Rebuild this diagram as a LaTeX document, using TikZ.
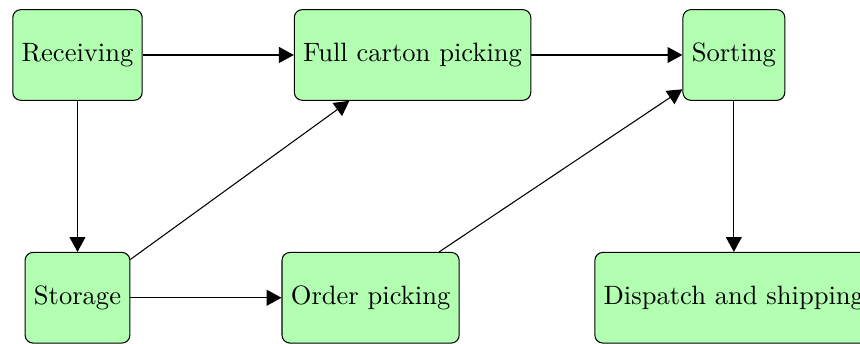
\documentclass[tikz,border=0pt]{standalone}
\usepackage{tikz}
\usetikzlibrary{arrows.meta,positioning}

\begin{document}
\begin{tikzpicture}[
        stage/.style={draw, fill=green!30, rounded corners=3pt, minimum height=1.2cm, align=center},
        arrow/.style={-{Triangle[length=5.6pt, width=6pt]}}
    ]
        \useasboundingbox (-1.026, 0.728) rectangle (10.36, -3.826);

        % upper row
        \node[stage] (recv) at (0, 0) {Receiving};
        \node[stage, right=2cm of recv] (full) {Full carton picking};
        \node[stage, right=2cm of full] (sort) {Sorting};

        % lower row
        \node[stage, below=2cm of recv] (store) {Storage};
        \node[stage, right=2cm of store] (order) {Order picking};
        \node[stage, below=2cm of sort] (ship) {Dispatch and shipping};

        % arrows
        \draw[arrow] (recv) -- (full);
        \draw[arrow] (full) -- (sort);
        \draw[arrow] (recv) -- (store);
        \draw[arrow] (store) -- (order);
        \draw[arrow] (store) -- (full);
        \draw[arrow] (order) -- (sort);
        \draw[arrow] (sort) -- (ship);
    \end{tikzpicture}
\end{document}
